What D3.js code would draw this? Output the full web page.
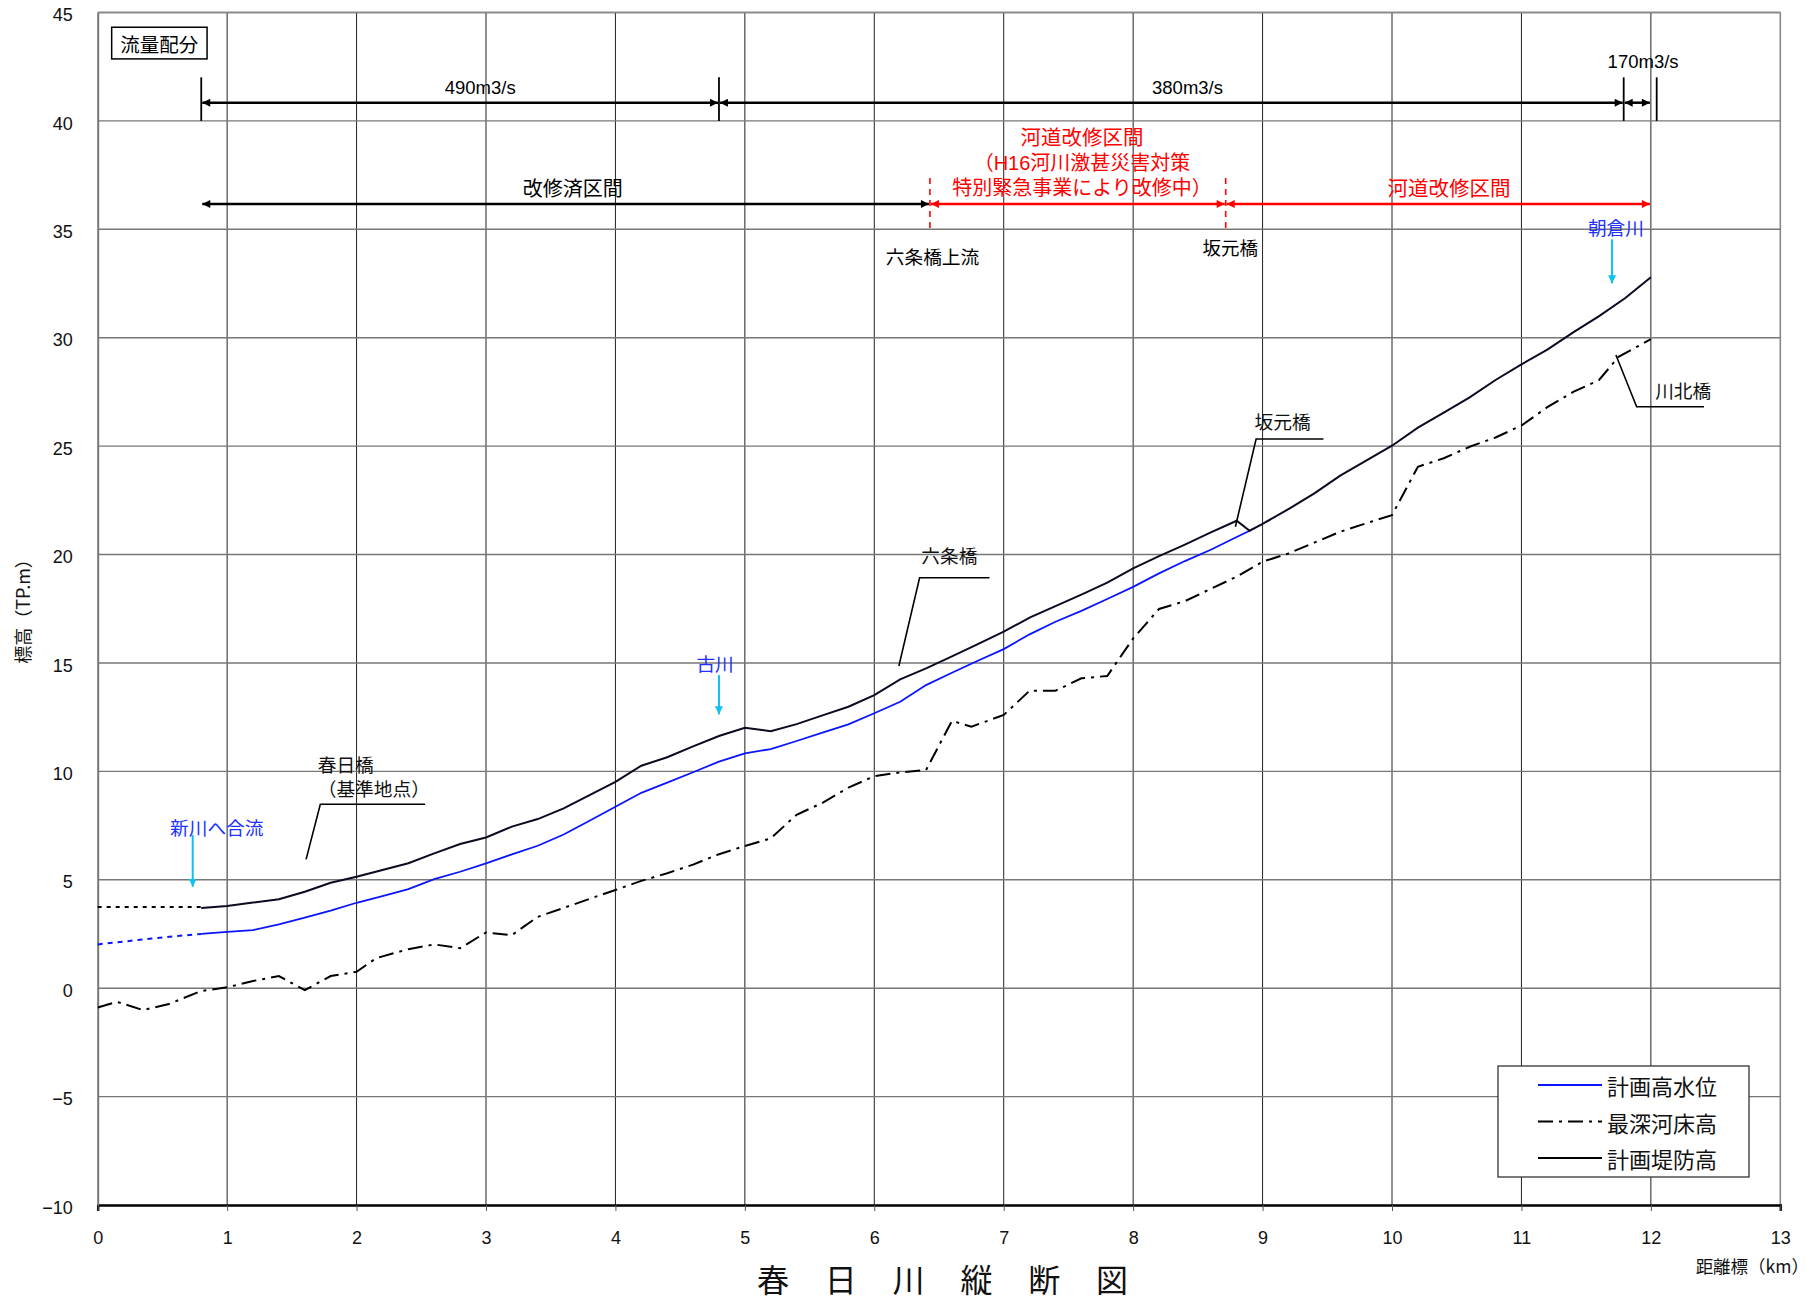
<!DOCTYPE html>
<html lang="ja"><head><meta charset="utf-8">
<script src="https://cdn.jsdelivr.net/npm/d3@7"></script>
<style>body{margin:0;background:#fff}svg{display:block}</style>
</head><body>
<svg id="c" width="1811" height="1305" lang="ja"></svg>
<script>
// ---------------- data ----------------
const xTickLabels = [0,1,2,3,4,5,6,7,8,9,10,11,12,13];
const yTickLabels = [-10,-5,0,5,10,15,20,25,30,35,40,45];
const seriesNames = ["計画高水位", "最深河床高", "計画堤防高"];

// 計画堤防高 (planned embankment height)
const embankmentDotted = [[0,3.74],[0.8,3.74]];
const embankment = [
 [0.8,3.70],[1.0,3.79],[1.2,3.95],[1.4,4.10],[1.6,4.45],[1.8,4.86],[2.0,5.14],[2.2,5.45],[2.4,5.76],[2.6,6.22],
 [2.8,6.65],[3.0,6.95],[3.2,7.45],[3.4,7.80],[3.6,8.29],[3.8,8.90],[4.0,9.52],[4.2,10.26],[4.4,10.65],[4.6,11.15],
 [4.8,11.63],[5.0,12.01],[5.2,11.85],[5.4,12.18],[5.6,12.58],[5.8,12.98],[6.0,13.52],[6.2,14.24],[6.4,14.75],[6.6,15.30],
 [6.8,15.87],[7.0,16.44],[7.2,17.09],[7.4,17.62],[7.6,18.15],[7.8,18.70],[8.0,19.36],[8.2,19.93],[8.4,20.46],[8.6,21.02],
 [8.8,21.56],[8.9,21.10],[9.0,21.41],[9.2,22.10],[9.4,22.82],[9.6,23.64],[9.8,24.33],[10.0,25.02],[10.2,25.85],[10.4,26.55],
 [10.6,27.25],[10.8,28.05],[11.0,28.77],[11.2,29.45],[11.4,30.25],[11.6,31.00],[11.8,31.82],[12.0,32.79]
];
// 計画高水位 (planned high water level)
const hwlDotted = [[0,2.02],[0.2,2.15],[0.4,2.28],[0.6,2.40],[0.8,2.50]];
const hwl = [
 [0.8,2.50],[1.0,2.60],[1.2,2.68],[1.4,2.94],[1.6,3.25],[1.8,3.58],[2.0,3.94],[2.2,4.25],[2.4,4.57],[2.6,5.03],
 [2.8,5.37],[3.0,5.76],[3.2,6.17],[3.4,6.57],[3.6,7.09],[3.8,7.72],[4.0,8.37],[4.2,9.01],[4.4,9.48],[4.6,9.96],
 [4.8,10.45],[5.0,10.83],[5.2,11.03],[5.4,11.40],[5.6,11.79],[5.8,12.17],[6.0,12.68],[6.2,13.21],[6.4,13.98],[6.6,14.55],
 [6.8,15.10],[7.0,15.64],[7.2,16.32],[7.4,16.90],[7.6,17.40],[7.8,17.95],[8.0,18.51],[8.2,19.13],[8.4,19.70],[8.6,20.22],
 [8.8,20.81],[8.9,21.10]
];
// 最深河床高 (deepest riverbed)
const riverbed = [
 [0,-0.89],[0.15,-0.63],[0.35,-1.01],[0.55,-0.73],[0.8,-0.13],[1.0,0.04],[1.2,0.33],[1.4,0.56],[1.6,-0.09],[1.8,0.56],
 [2.0,0.76],[2.15,1.38],[2.4,1.80],[2.6,2.02],[2.8,1.84],[3.0,2.57],[3.2,2.45],[3.4,3.29],[3.6,3.70],[3.8,4.12],
 [4.0,4.53],[4.2,4.95],[4.4,5.30],[4.6,5.70],[4.8,6.18],[5.0,6.56],[5.2,6.91],[5.4,8.00],[5.6,8.55],[5.8,9.25],
 [6.0,9.78],[6.2,9.95],[6.4,10.06],[6.6,12.33],[6.75,12.06],[7.0,12.60],[7.2,13.72],[7.4,13.72],[7.6,14.29],[7.8,14.40],
 [8.0,16.13],[8.2,17.49],[8.4,17.85],[8.6,18.42],[8.8,18.98],[9.0,19.67],[9.2,20.05],[9.4,20.55],[9.6,21.05],[9.8,21.44],
 [10.0,21.82],[10.2,24.05],[10.4,24.44],[10.6,24.97],[10.8,25.40],[11.0,25.95],[11.2,26.80],[11.4,27.50],[11.6,28.05],[11.75,29.12],
 [12.0,29.93]
];

// 流量配分 (flow distribution) : [from km, to km, label]
const flowSegments = [[0.8,4.8,"490m3/s"],[4.8,11.79,"380m3/s"],[11.79,12.0,"170m3/s"]];
const flowTicks = [0.8,4.8,11.79,12.045];
const flowLabelPos = [[2.955,41.55],[8.42,41.52],[11.94,42.72]];
// 改修区間 (improvement sections): [from, to, colour key]
const sections = [[0.8,6.43,"done"],[6.43,8.715,"work"],[8.715,12.0,"work"]];
const sectionBounds = [6.43,8.715];
const sectionLabels = [
 {t:"改修済区間",km:3.67,v:36.86,c:"done",s:20},
 {t:"河道改修区間",km:7.605,v:39.22,c:"work",s:20.5},
 {t:"（H16河川激甚災害対策",km:7.605,v:38.06,c:"work",s:20},
 {t:"特別緊急事業により改修中）",km:7.605,v:36.90,c:"work",s:20},
 {t:"河道改修区間",km:10.44,v:36.86,c:"work",s:20.5},
 {t:"六条橋上流",km:6.45,v:33.72,c:"done",s:18.7},
 {t:"坂元橋",km:8.75,v:34.13,c:"done",s:18.5}
];
// bridges with leader lines
const bridges = [
 {lines:["春日橋","（基準地点）"],km:1.70,v:[10.29,9.17],anchor:"start",leader:[[1.61,5.94],[1.72,8.48],[2.53,8.48]]},
 {lines:["六条橋"],km:6.58,v:[19.90],anchor:"middle",leader:[[6.19,14.86],[6.35,18.93],[6.89,18.93]]},
 {lines:["坂元橋"],km:9.155,v:[26.10],anchor:"middle",leader:[[8.79,21.28],[8.95,25.33],[9.47,25.33]]},
 {lines:["川北橋"],km:12.25,v:[27.51],anchor:"middle",leader:[[11.73,29.2],[11.89,26.82],[12.41,26.82]]}
];
// tributaries: label, label position, arrow [km, from, to]
const tributaries = [
 {t:"新川へ合流",km:0.92,v:7.48,arrow:[0.734,7.06,4.68]},
 {t:"古川",km:4.77,v:15.0,arrow:[4.80,14.44,12.63]},
 {t:"朝倉川",km:11.73,v:35.15,arrow:[11.70,34.54,32.51]}
];

// ---------------- drawing ----------------
const svg = d3.select("#c");
const L = 97.7, R = 1780.3, T = 12.5, B = 1205;
const x = d3.scaleLinear().domain([0,13]).range([L,R]);
const y = d3.scaleLinear().domain([-10,45]).range([B,T]);
const jp = "'Noto Sans CJK JP','Noto Sans',sans-serif";
const jpTight = "'Liberation Sans','Noto Sans CJK JP',sans-serif";
const num = "'Liberation Sans',Arial,sans-serif";
const BLUE = "#0a14ff", RED = "#ff0000", CYAN = "#10c0f0", LBLUE = "#2030ff";
const colorOf = c => c === "work" ? RED : "#000";

const defs = svg.append("defs");
function marker(id, color, w, h){
  defs.append("marker").attr("id",id).attr("viewBox","0 0 10 10").attr("refX",10).attr("refY",5)
    .attr("markerWidth",w).attr("markerHeight",h).attr("markerUnits","userSpaceOnUse")
    .attr("orient","auto-start-reverse")
    .append("path").attr("d","M0,0L10,5L0,10z").attr("fill",color);
}
marker("ak","#000",9,8); marker("ar",RED,9,8); marker("ac",CYAN,8,8);

// grid
const g = svg.append("g");
g.selectAll(".vg").data(xTickLabels.filter(d=>d>0)).join("line")
  .attr("x1",d=>x(d)).attr("x2",d=>x(d)).attr("y1",T).attr("y2",B)
  .attr("stroke",d=>d===13?"#888":"#222").attr("stroke-width",d=>d===13?1.6:1);
g.selectAll(".hg").data(yTickLabels.filter(d=>d>-10)).join("line")
  .attr("x1",L).attr("x2",R).attr("y1",d=>y(d)).attr("y2",d=>y(d))
  .attr("stroke","#777").attr("stroke-width",1.4);

// axes
const xa = svg.append("g").attr("transform",`translate(0,${B})`)
  .call(d3.axisBottom(x).tickValues(xTickLabels).tickSize(6).tickPadding(20).tickFormat(d3.format("d")));
xa.select(".domain").attr("stroke","#000").attr("stroke-width",2.5);
xa.selectAll(".tick line").attr("stroke","#555");
xa.selectAll("text").attr("font-family",num).attr("font-size",18).attr("fill","#111");
const ya = svg.append("g").attr("transform",`translate(${L},0)`)
  .call(d3.axisLeft(y).tickValues(yTickLabels).tickSize(0).tickPadding(25));
ya.select(".domain").attr("stroke","#777").attr("stroke-width",2);
ya.selectAll("text").attr("font-family",num).attr("font-size",18).attr("fill","#111").attr("dy","0.45em");
svg.append("line").attr("x1",L).attr("x2",R).attr("y1",T).attr("y2",T).attr("stroke","#888").attr("stroke-width",1.6);

// series
const line = d3.line().x(d=>x(d[0])).y(d=>y(d[1]));
svg.append("path").datum(riverbed).attr("d",line).attr("fill","none").attr("stroke","#000")
  .attr("stroke-width",2).attr("stroke-dasharray","15,6,3,6");
svg.append("path").datum(hwlDotted).attr("d",line).attr("fill","none").attr("stroke",BLUE)
  .attr("stroke-width",2).attr("stroke-dasharray","5,5");
svg.append("path").datum(hwl).attr("d",line).attr("fill","none").attr("stroke",BLUE).attr("stroke-width",1.8);
svg.append("path").datum(embankmentDotted).attr("d",line).attr("fill","none").attr("stroke","#000")
  .attr("stroke-width",2).attr("stroke-dasharray","4,5");
svg.append("path").datum(embankment).attr("d",line).attr("fill","none").attr("stroke","#0a0a20").attr("stroke-width",2);

// flow distribution
svg.append("rect").attr("x",x(0.108)).attr("y",y(44.32)).attr("width",x(0.845)-x(0.108)).attr("height",y(42.86)-y(44.32))
  .attr("fill","#fff").attr("stroke","#000").attr("stroke-width",1.5);
svg.append("text").attr("x",(x(0.108)+x(0.845))/2).attr("y",(y(44.32)+y(42.86))/2).attr("text-anchor","middle")
  .attr("dominant-baseline","central").attr("font-family",jp).attr("font-size",19.5).text("流量配分");
svg.selectAll(".ft").data(flowTicks).join("line").attr("x1",d=>x(d)).attr("x2",d=>x(d))
  .attr("y1",y(42.01)).attr("y2",y(40)).attr("stroke","#000").attr("stroke-width",1.8);
svg.selectAll(".fa").data(flowSegments).join("line").attr("x1",d=>x(d[0])+1).attr("x2",d=>x(d[1])-1)
  .attr("y1",y(40.84)).attr("y2",y(40.84)).attr("stroke","#000").attr("stroke-width",2.5)
  .attr("marker-start","url(#ak)").attr("marker-end","url(#ak)");
svg.selectAll(".fl").data(flowSegments).join("text").attr("x",(d,i)=>x(flowLabelPos[i][0])).attr("y",(d,i)=>y(flowLabelPos[i][1]))
  .attr("text-anchor","middle").attr("dominant-baseline","central").attr("font-family",num).attr("font-size",18.5).text(d=>d[2]);

// sections
svg.selectAll(".sa").data(sections).join("line").attr("x1",d=>x(d[0])+1).attr("x2",d=>x(d[1])-1)
  .attr("y1",y(36.17)).attr("y2",y(36.17)).attr("stroke",d=>colorOf(d[2])).attr("stroke-width",2.5)
  .attr("marker-start",d=>d[2]==="work"?"url(#ar)":"url(#ak)").attr("marker-end",d=>d[2]==="work"?"url(#ar)":"url(#ak)");
svg.selectAll(".sb").data(sectionBounds).join("line").attr("x1",d=>x(d)).attr("x2",d=>x(d))
  .attr("y1",y(37.37)).attr("y2",y(34.9)).attr("stroke",RED).attr("stroke-width",1.6).attr("stroke-dasharray","6,5");
svg.selectAll(".sl").data(sectionLabels).join("text").attr("x",d=>x(d.km)).attr("y",d=>y(d.v))
  .attr("text-anchor","middle").attr("dominant-baseline","central").attr("font-family",jpTight)
  .attr("font-size",d=>d.s).attr("fill",d=>colorOf(d.c)).text(d=>d.t);

// bridges
bridges.forEach(b=>{
  svg.append("path").datum(b.leader).attr("d",line).attr("fill","none").attr("stroke","#000").attr("stroke-width",1.6);
  b.lines.forEach((t,i)=>svg.append("text").attr("x",x(b.km)).attr("y",y(b.v[i])).attr("text-anchor",b.anchor)
    .attr("dominant-baseline","central").attr("font-family",jpTight).attr("font-size",18.7).attr("fill","#111").text(t));
});

// tributaries
tributaries.forEach(t=>{
  svg.append("text").attr("x",x(t.km)).attr("y",y(t.v)).attr("text-anchor","middle").attr("dominant-baseline","central")
    .attr("font-family",jp).attr("font-size",18.7).attr("fill",LBLUE).text(t.t);
  svg.append("line").attr("x1",x(t.arrow[0])).attr("x2",x(t.arrow[0])).attr("y1",y(t.arrow[1])).attr("y2",y(t.arrow[2]))
    .attr("stroke",CYAN).attr("stroke-width",2).attr("marker-end","url(#ac)");
});

// legend
const lg = svg.append("g");
lg.append("rect").attr("x",1498).attr("y",1066).attr("width",251).attr("height",111)
  .attr("fill","#fff").attr("stroke","#333").attr("stroke-width",1.3);
const legendStyles = [{c:BLUE,d:null,w:1.8},{c:"#000",d:"15,6,3,6",w:2},{c:"#000",d:null,w:1.8}];
seriesNames.forEach((n,i)=>{
  const yy = 1085 + i*36.5;
  lg.append("line").attr("x1",1538).attr("x2",1602).attr("y1",yy).attr("y2",yy)
    .attr("stroke",legendStyles[i].c).attr("stroke-width",legendStyles[i].w).attr("stroke-dasharray",legendStyles[i].d);
  lg.append("text").attr("x",1607).attr("y",yy).attr("dominant-baseline","central").attr("font-family",jp)
    .attr("font-size",22).attr("fill","#111").text(n);
});

// titles
svg.append("text").attr("x",1809).attr("y",1265).attr("text-anchor","end").attr("dominant-baseline","central")
  .attr("font-family",jp).attr("font-size",17.5).attr("fill","#111").text("距離標（km）");
svg.append("text").attr("transform","translate(22,607) rotate(-90)").attr("text-anchor","middle")
  .attr("dominant-baseline","central").attr("font-family",jp).attr("font-size",18).attr("fill","#111").text("標高（TP.m）");
svg.append("text").attr("x",757).attr("y",1281).attr("dominant-baseline","central").attr("font-family",jpTight)
  .attr("font-size",32).attr("textLength",371).attr("lengthAdjust","spacing").attr("fill","#111").text("春 日 川 縦 断 図");
</script>
</body></html>
